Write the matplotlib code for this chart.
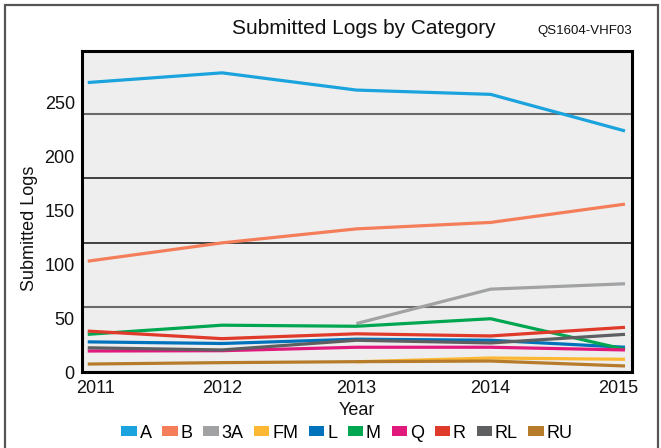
import numpy as np
import matplotlib
matplotlib.use("Agg")
import matplotlib.pyplot as plt
from matplotlib.patches import Patch, Rectangle
import matplotlib.transforms as mtransforms

plt.rcParams['font.family'] = ['Liberation Sans', 'DejaVu Sans']

years = [2011, 2012, 2013, 2014, 2015]
nan = np.nan
series_names = ["A", "B", "3A", "FM", "L", "M", "Q", "R", "RL", "RU"]
A = [269, 278, 262, 258, 224]
B = [103, 120, 133, 139, 156]
A3 = [nan, nan, 45, 77, 82]
FM = [nan, nan, 9.5, 13, 11.8]
L = [28, 26.5, 30.5, 29.5, 23]
M = [35, 43.5, 42.5, 49.5, 21]
Q = [19.5, 19.8, 23, 23, 20.5]
R = [38, 31, 35.5, 33.5, 41.5]
RL = [22.5, 20.5, 29.5, 27, 35]
RU = [7.4, 8.7, 9.6, 10.2, 5.6]
values = [A, B, A3, FM, L, M, Q, R, RL, RU]
colors = ["#1AA3DD", "#F47E5A", "#A0A2A4", "#FDB833", "#0072BC",
          "#00A650", "#E2197D", "#E03A2B", "#5D5F61", "#B77C2B"]
yticks = [0, 50, 100, 150, 200, 250]
gridlines = [60, 120, 180, 240]
grid_colors = ["#6A6A6A", "#111111", "#111111", "#6A6A6A"]
grid_widths = [1.5, 1.1, 1.1, 1.5]

W, H = 661, 448
fig = plt.figure(figsize=(W / 100, H / 100), dpi=100)
fig.patch.set_facecolor("white")

ax = fig.add_axes([81.7 / W, 1 - 372 / H, (631.7 - 81.7) / W, (372 - 51) / H])
ax.set_facecolor("#EEEEEE")

for g, c, w in zip(gridlines, grid_colors, grid_widths):
    ax.axhline(g, color=c, lw=w, zorder=1)

for name, vals, col in zip(series_names, values, colors):
    ax.plot(years, vals, color=col, lw=2.3, zorder=3, solid_capstyle='butt')

ax.set_xlim(2010.955, 2015.05)
ax.set_ylim(0, 298.3)
ax.set_xticks(years)
ax.set_xticklabels([str(y) for y in years])
ax.set_yticks(yticks)
ax.tick_params(axis='both', length=0, labelsize=13, colors='#111111')
ax.tick_params(axis='x', pad=6)
ax.tick_params(axis='y', pad=5)

# shift edge labels inward
labels = ax.get_xticklabels()
labels[0].set_transform(labels[0].get_transform() + mtransforms.ScaledTranslation(8 / 100, 0, fig.dpi_scale_trans))
labels[-1].set_transform(labels[-1].get_transform() + mtransforms.ScaledTranslation(-7 / 100, 0, fig.dpi_scale_trans))

for s in ax.spines.values():
    s.set_linewidth(2.2)
    s.set_color("#000000")

fig.text(30 / W, 1 - 228 / H, "Submitted Logs", rotation=90, ha='center', va='center',
         fontsize=13, color='#111111')
fig.text(357 / W, 1 - 410 / H, "Year", ha='center', va='center', fontsize=13, color='#111111')

fig.text(363.5 / W, 1 - 29 / H, "Submitted Logs by Category", ha='center', va='center',
         fontsize=15, color='#111111')
fig.text(632 / W, 1 - 31 / H, "QS1604-VHF03", ha='right', va='center',
         fontsize=9.5, color='#111111')

handles = [Patch(facecolor=c, edgecolor='none', label=n) for n, c in zip(series_names, colors)]
fig.legend(handles=handles, loc='center', bbox_to_anchor=(347 / W, 1 - 433 / H),
           ncol=10, frameon=False, fontsize=13, handlelength=0.85, handleheight=0.48,
           handletextpad=0.15, columnspacing=0.6, borderpad=0, borderaxespad=0)

# figure border
fig.patches.append(Rectangle((4.5 / W, -0.01), (657.5 - 4.5) / W, 1 - 5.5 / H + 0.01,
                             transform=fig.transFigure, fill=False,
                             edgecolor="#555555", lw=1.6))

fig.savefig("out.png", dpi=100)
